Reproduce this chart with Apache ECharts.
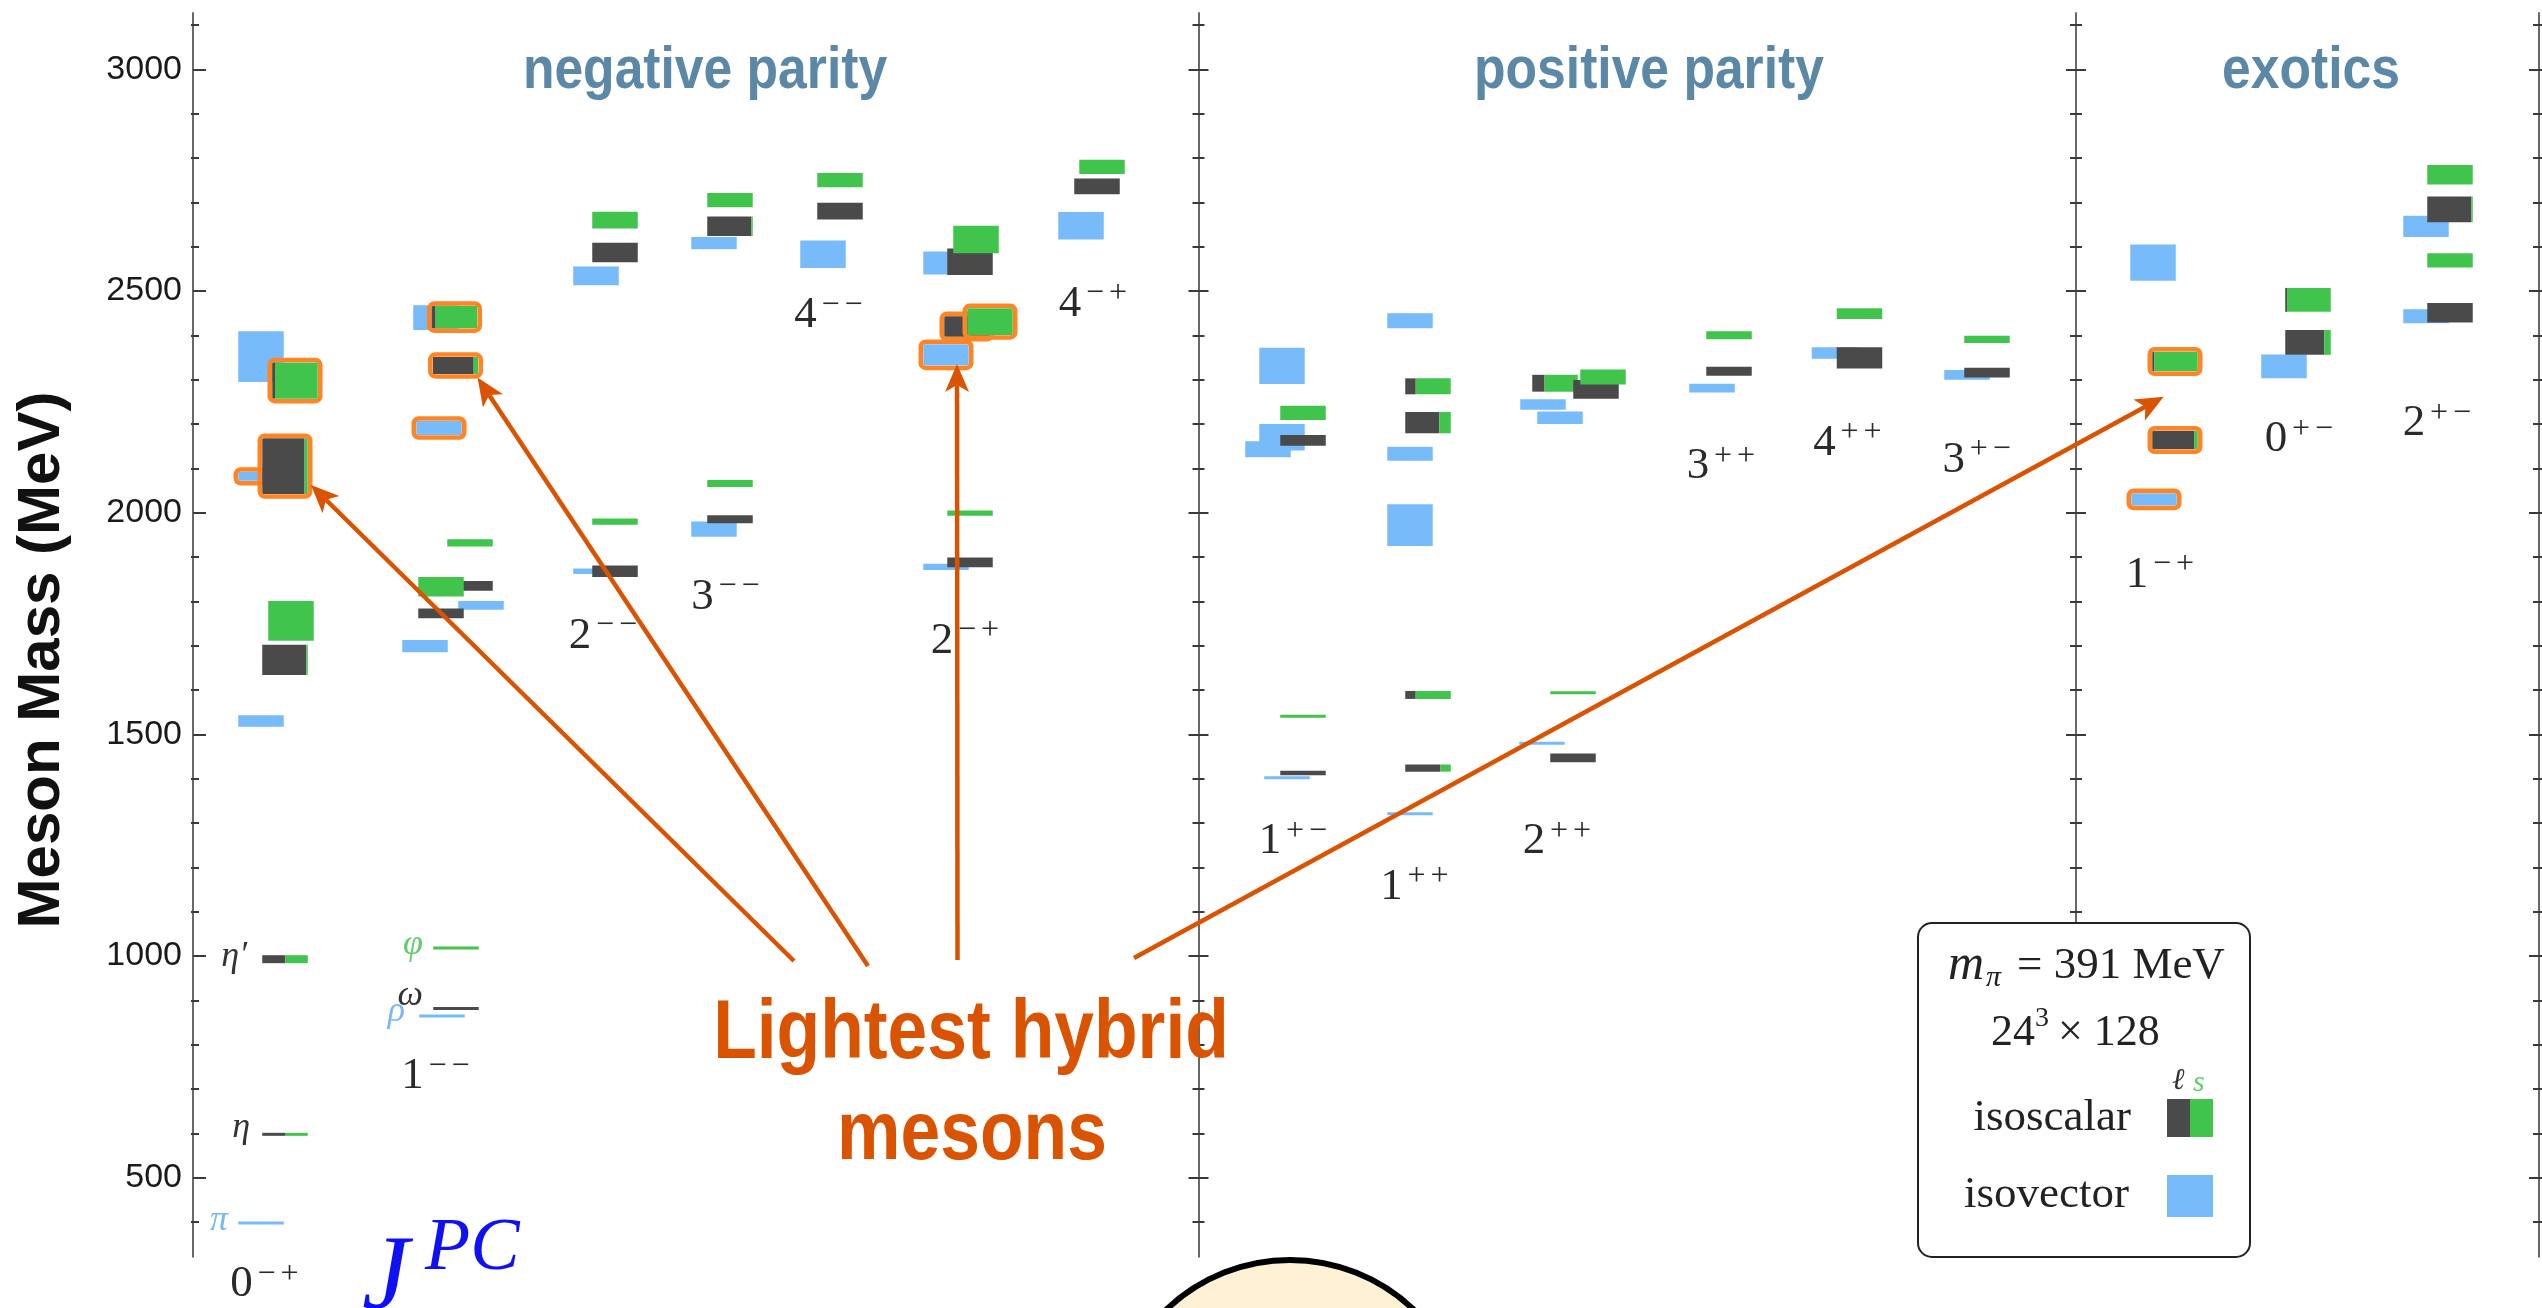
<!DOCTYPE html>
<html><head><meta charset="utf-8">
<script src="https://cdn.jsdelivr.net/npm/echarts@6/dist/echarts.min.js"></script>
<style>html,body{margin:0;padding:0;background:#fff}#c{width:2542px;height:1308px}</style>
</head><body><div id="c"></div>
<script>
// ================= DATA =================
// JPC columns: label text, label anchor (layout x unit, mass MeV)
const jpcLabels    = ['0-+','1--','2--','3--','4--','2-+','4-+','1+-','1++','2++','3++','4++','3+-','1-+','0+-','2+-'];
const jpcLabelX    = [0.485, 2.195, 3.87, 5.096, 6.125, 7.489, 8.77, 10.77, 11.985, 13.41, 15.05, 16.315, 17.607, 19.44, 20.83, 22.21];
const jpcLabelMass = [260, 729, 1722, 1810, 2445, 1711, 2471, 1259, 1156, 1259, 2104, 2157, 2119, 1860, 2166, 2202];

// Sections (x ranges in layout units) and their titles
const sectionTitles = ['negative parity', 'positive parity', 'exotics'];
const sectionEdges  = [0, 10.055, 18.83, 23.46];

// Mass axis
const massMin = 322, massMax = 3127;
const majorTicks = [500, 1000, 1500, 2000, 2500, 3000];
const minorTicks = [400,600,700,800,900,1100,1200,1300,1400,1600,1700,1800,1900,2100,2200,2300,2400,2600,2700,2800,2900,3100];

// Isovector states: [x, mass, half-error, highlighted]
const isovector = [
  [0.68, 2352, 57, 0], [0.68, 2082, 10, 1], [0.68, 1530, 13, 0], [0.68, 398, 3, 0],
  [2.43, 2440, 28, 0], [2.46, 2191, 16, 1], [2.88, 1791, 10, 0], [2.32, 1699, 14, 0], [2.49, 865, 3, 0],
  [4.03, 2534, 21, 0], [4.03, 1868, 6, 0],
  [5.21, 2608, 14, 0], [5.21, 1963, 17, 0],
  [6.30, 2583, 31, 0],
  [7.53, 2563, 26, 0], [7.53, 2356, 24, 1], [7.53, 1878, 7, 0],
  [8.88, 2647, 31, 0],
  [10.89, 2331, 41, 0], [10.89, 2170, 30, 0], [10.75, 2143, 18, 0], [10.94, 1402, 3, 0],
  [12.17, 2433, 17, 0], [12.17, 2133, 16, 0], [12.17, 1972, 47, 0], [12.17, 1321, 3, 0],
  [13.50, 2244, 12, 0], [13.67, 2214, 14, 0], [13.49, 1480, 3, 0],
  [15.19, 2281, 10, 0],
  [16.415, 2360, 13, 0],
  [17.74, 2311, 11, 0],
  [19.60, 2564, 41, 0], [19.61, 2030, 14, 1],
  [20.91, 2330, 27, 0],
  [22.33, 2646, 24, 0], [22.33, 2443, 16, 0]
];

// Isoscalar states: [x, mass, half-error, light-quark fraction, highlighted]
const isoscalar = [
  [1.02, 2298, 41, 0.06, 1], [0.92, 2105, 63, 0.93, 1], [0.98, 1756, 45, 0, 0], [0.92, 1668, 34, 0.97, 0], [0.92, 993, 9, 0.51, 0], [0.92, 598, 2, 0.5, 0],
  [2.615, 2441, 25, 0.08, 1], [2.625, 2332, 19, 0.9, 1], [2.77, 1932, 8, 0, 0], [2.77, 1835, 11, 1, 0], [2.48, 1833, 22, 0, 0], [2.48, 1773, 11, 1, 0], [2.63, 882, 3, 1, 0], [2.63, 1018, 2, 0, 0],
  [4.22, 2587, 22, 1, 0], [4.22, 2660, 19, 0, 0], [4.22, 1980, 7, 0, 0], [4.22, 1868, 13, 1, 0],
  [5.37, 2646, 22, 0.97, 0], [5.37, 2705, 16, 0, 0], [5.37, 2066, 8, 0, 0], [5.37, 1985, 9, 1, 0],
  [6.47, 2680, 19, 1, 0], [6.47, 2750, 16, 0, 0],
  [7.77, 2566, 30, 1, 0], [7.83, 2616, 31, 0, 0], [7.74, 2420, 23, 1, 1], [7.97, 2431, 30, 0, 1], [7.77, 1999, 6, 0, 0], [7.77, 1888, 11, 1, 0],
  [9.04, 2736, 18, 1, 0], [9.09, 2780, 16, 0, 0],
  [11.10, 2225, 16, 0, 0], [11.10, 2163, 12, 1, 0], [11.10, 1541, 3, 0, 0], [11.10, 1413, 5, 1, 0],
  [12.35, 2285, 18, 0.23, 0], [12.35, 2203, 24, 0.75, 0], [12.35, 1589, 9, 0.23, 0], [12.35, 1424, 8, 0.77, 0],
  [13.62, 2292, 19, 0.27, 0], [14.03, 2278, 21, 1, 0], [14.10, 2306, 17, 0, 0], [13.80, 1594, 3, 0, 0], [13.80, 1447, 10, 1, 0],
  [15.36, 2400, 9, 0, 0], [15.36, 2319, 10, 1, 0],
  [16.665, 2449, 12, 0, 0], [16.665, 2349, 24, 1, 0],
  [17.94, 2391, 8, 0, 0], [17.94, 2316, 11, 1, 0],
  [19.82, 2341, 22, 0.05, 1], [19.82, 2164, 21, 0.92, 1],
  [21.15, 2480, 27, 0.04, 0], [21.15, 2384, 28, 0.86, 0],
  [22.57, 2762, 22, 0, 0], [22.57, 2684, 29, 0.97, 0], [22.57, 2569, 16, 0, 0], [22.57, 2451, 22, 1, 0]
];

// Names of the known ground states (right edge x, mass)
const stateNames    = ['η′', 'η', 'π', 'φ', 'ω', 'ρ'];
const stateNameX    = [0.54, 0.57, 0.35, 2.30, 2.30, 2.12];
const stateNameMass = [1000, 613, 404, 1027, 912, 874];
const stateNameKind = ['s', 's', 'v', 'g', 's', 'v'];

// ================= STYLE =================
const BLUE = '#78bbfa', DARK = '#4a4a4a', GREEN = '#41c44c', HL = '#ff8424';
const ARROW = '#d95300', TITLE = '#5b88a6';
const HALF_W = 0.2275, MIN_H = 3;
const SERIF = '"Liberation Serif", "DejaVu Serif", serif';
const SANS = '"Liberation Sans", Arial, sans-serif';

const GRID_LEFT = 193, GRID_TOP = 13, GRID_H = 1243.7, PX_PER_UNIT = 100;
function gridOf(x) { return x < sectionEdges[1] ? 0 : (x < sectionEdges[2] ? 1 : 2); }

const grids = [], xAxes = [];
for (let g = 0; g < 3; g++) {
  grids.push({
    left: GRID_LEFT + sectionEdges[g] * PX_PER_UNIT,
    width: (sectionEdges[g + 1] - sectionEdges[g]) * PX_PER_UNIT,
    top: GRID_TOP, height: GRID_H, containLabel: false, outerBoundsMode: 'none'
  });
  xAxes.push({ type: 'value', gridIndex: g, min: sectionEdges[g], max: sectionEdges[g + 1], show: false });
}

const yAxes = [];
const mainAxis = [];
function axisSet(g, pos, majIn, majOut, minIn, minOut, labels) {
  mainAxis.push(yAxes.length);
  yAxes.push({
    type: 'value', gridIndex: g, position: pos, min: massMin, max: massMax,
    axisLine: { show: true, onZero: false, lineStyle: { color: '#686868', width: 2 } },
    axisTick: { show: false }, splitLine: { show: false },
    axisLabel: labels ? { show: true, customValues: majorTicks, fontSize: 34, fontFamily: SANS, color: '#1a1a1a', margin: 11,
                          formatter: v => String(v) } : { show: false }
  });
  yAxes.push({
    type: 'value', gridIndex: g, position: pos, offset: majOut, min: massMin, max: massMax,
    axisLine: { show: false }, splitLine: { show: false }, axisLabel: { show: false },
    axisTick: { show: true, inside: true, length: majIn + majOut, customValues: majorTicks, lineStyle: { color: '#3a3a3a', width: 2 } }
  });
  yAxes.push({
    type: 'value', gridIndex: g, position: pos, offset: minOut, min: massMin, max: massMax,
    axisLine: { show: false }, splitLine: { show: false }, axisLabel: { show: false },
    axisTick: { show: true, inside: true, length: minIn + minOut, customValues: minorTicks, lineStyle: { color: '#3a3a3a', width: 2 } }
  });
}
axisSet(0, 'left', 10, 3, 6, 2, true);
axisSet(1, 'left', 10, 10, 6, 6, false);
axisSet(2, 'left', 10, 10, 6, 6, false);
axisSet(2, 'right', 10, 10, 6, 6, false);

// ---- renderers ----
function rect(x, y, w, h, fill) {
  return { type: 'rect', shape: { x: x, y: y, width: w, height: h }, style: { fill: fill, blend: 'multiply' } };
}
function boxItem(params, api) {
  const x = api.value(0), m = api.value(1), e = api.value(2), f = api.value(3), hl = api.value(4), kind = api.value(5);
  const p0 = api.coord([x - HALF_W, m + e]);
  const p1 = api.coord([x + HALF_W, m - e]);
  let top = p0[1], h = p1[1] - p0[1];
  if (h < MIN_H) { const c = (p0[1] + p1[1]) / 2; top = c - MIN_H / 2; h = MIN_H; }
  const left = p0[0], w = p1[0] - p0[0];
  const ch = [];
  if (kind === 0) ch.push(rect(left, top, w, h, BLUE));
  else {
    const wd = w * f;
    if (wd > 0.3) ch.push(rect(left, top, wd, h, DARK));
    if (w - wd > 0.3) ch.push(rect(left + wd, top, w - wd, h, GREEN));
  }
  if (hl) ch.push({ type: 'rect', shape: { x: left - 2.5, y: top - 2.5, width: w + 5, height: h + 5, r: 5 },
                    style: { fill: 'none', stroke: HL, lineWidth: 4.5, blend: 'multiply' } });
  return { type: 'group', children: ch };
}
function jpcItem(params, api) {
  const i = api.value(2);
  const p = api.coord([api.value(0), api.value(1)]);
  const lab = jpcLabels[i];
  const signs = lab.slice(1).replace(/-/g, '\u2212');
  return { type: 'group', children: [
    { type: 'text', x: p[0], y: p[1], style: { text: lab[0], fontSize: 45, fontFamily: SERIF, fill: '#2a2a2a', align: 'center', verticalAlign: 'middle' } },
    { type: 'text', x: p[0] + 25, y: p[1] - 10, style: { text: signs[0], fontSize: 32, fontFamily: SERIF, fill: '#2a2a2a', align: 'center', verticalAlign: 'middle' } },
    { type: 'text', x: p[0] + 48, y: p[1] - 10, style: { text: signs[1], fontSize: 32, fontFamily: SERIF, fill: '#2a2a2a', align: 'center', verticalAlign: 'middle' } }
  ] };
}
const nameColor = { s: '#333333', v: '#7ab8f5', g: '#5ccf66' };
function nameItem(params, api) {
  const i = api.value(2);
  const p = api.coord([api.value(0), api.value(1)]);
  return { type: 'text', x: p[0], y: p[1], style: { text: stateNames[i], fontSize: 36, fontStyle: 'italic', fontFamily: SERIF,
           fill: nameColor[stateNameKind[i]], align: 'right', verticalAlign: 'middle' } };
}

const boxRows = isovector.map(r => [r[0], r[1], r[2], 0, r[3], 0])
  .concat(isoscalar.map(r => [r[0], r[1], r[2], r[3], r[4], 1]));
const jpcRows = jpcLabels.map((l, i) => [jpcLabelX[i], jpcLabelMass[i], i]);
const nameRows = stateNames.map((n, i) => [stateNameX[i], stateNameMass[i], i]);

const series = [];
for (let g = 0; g < 3; g++) {
  const common = { type: 'custom', xAxisIndex: g, yAxisIndex: mainAxis[g], clip: false, silent: true, encode: { x: 0, y: 1 } };
  series.push(Object.assign({ renderItem: boxItem, data: boxRows.filter(r => gridOf(r[0]) === g), z: 5 }, common));
  series.push(Object.assign({ renderItem: jpcItem, data: jpcRows.filter(r => gridOf(r[0]) === g), z: 6 }, common));
  const nr = nameRows.filter(r => gridOf(r[0]) === g);
  if (nr.length) series.push(Object.assign({ renderItem: nameItem, data: nr, z: 6 }, common));
}

// ---- annotations (graphic) ----
const graphic = [];
function txt(t, x, y, size, opts) {
  const o = Object.assign({ type: 'text', x: x, y: y, z: 50,
    style: { text: t, fontSize: size, fontFamily: SERIF, fill: '#222', align: 'left', verticalAlign: 'middle' } }, opts || {});
  if (opts && opts.style) o.style = Object.assign({ text: t, fontSize: size, fontFamily: SERIF, fill: '#222', align: 'left', verticalAlign: 'middle' }, opts.style);
  return o;
}
// axis title
graphic.push({ type: 'text', x: 42, y: 660, rotation: Math.PI / 2, z: 50,
  style: { text: 'Meson Mass (MeV)', fontSize: 60, fontWeight: 'bold', fontFamily: SANS, fill: '#111', align: 'center', verticalAlign: 'middle' } });
// section titles
const titleX = [705, 1649, 2311];
sectionTitles.forEach((t, i) => graphic.push({ type: 'text', x: titleX[i], y: 71, scaleX: 0.86, z: 50,
  style: { text: t, fontSize: 60, fontWeight: 'bold', fontFamily: SANS, fill: TITLE, align: 'center', verticalAlign: 'middle' } }));
// J^PC
graphic.push({ type: 'text', x: 362, y: 1280, z: 50, style: { text: 'J', fontSize: 106, fontStyle: 'italic', fontFamily: SERIF, fill: '#1010f5', align: 'left', verticalAlign: 'middle' } });
graphic.push({ type: 'text', x: 425, y: 1250, z: 50, style: { text: 'PC', fontSize: 74, fontStyle: 'italic', fontFamily: SERIF, fill: '#1010f5', align: 'left', verticalAlign: 'middle' } });

// arrows
const arrows = [[794, 961, 311, 485], [868, 966, 477.5, 377.5], [957.5, 960, 957, 364], [1134, 958, 2163.7, 396.7]];
arrows.forEach(a => {
  const dx = a[2] - a[0], dy = a[3] - a[1], L = Math.hypot(dx, dy);
  const ux = dx / L, uy = dy / L, nx = -uy, ny = ux;
  const hl = 28, hw = 12, notch = 7;
  const bx = a[2] - ux * hl, by = a[3] - uy * hl;
  graphic.push({ type: 'line', z: 40, shape: { x1: a[0], y1: a[1], x2: a[2] - ux * (hl - notch), y2: a[3] - uy * (hl - notch) },
    style: { stroke: ARROW, lineWidth: 4.5 } });
  graphic.push({ type: 'polygon', z: 40, shape: { points: [[a[2], a[3]], [bx + nx * hw, by + ny * hw],
    [a[2] - ux * (hl - notch), a[3] - uy * (hl - notch)], [bx - nx * hw, by - ny * hw]] }, style: { fill: ARROW } });
});
// "Lightest hybrid mesons"
graphic.push({ type: 'text', x: 971, y: 1035, scaleX: 0.85, z: 50,
  style: { text: 'Lightest hybrid', fontSize: 84, fontWeight: 'bold', fontFamily: SANS, fill: ARROW, align: 'center', verticalAlign: 'middle' } });
graphic.push({ type: 'text', x: 972, y: 1136, scaleX: 0.85, z: 50,
  style: { text: 'mesons', fontSize: 84, fontWeight: 'bold', fontFamily: SANS, fill: ARROW, align: 'center', verticalAlign: 'middle' } });
// circle at the bottom
graphic.push({ type: 'circle', z: 45, shape: { cx: 1290, cy: 1439, r: 179 }, style: { fill: '#fff1d6', stroke: '#000', lineWidth: 6 } });

// legend box
graphic.push({ type: 'rect', z: 60, shape: { x: 1918, y: 923, width: 332, height: 334, r: 14 }, style: { fill: '#fff', stroke: '#222', lineWidth: 2 } });
graphic.push(txt('m', 1948, 966, 50, { z: 61, style: { fontStyle: 'italic' } }));
graphic.push(txt('π', 1986, 978, 30, { z: 61, style: { fontStyle: 'italic' } }));
graphic.push(txt('= 391 MeV', 2017, 966, 45, { z: 61 }));
graphic.push(txt('24', 1991, 1033, 44, { z: 61 }));
graphic.push(txt('3', 2035, 1019, 28, { z: 61 }));
graphic.push(txt('× 128', 2058, 1033, 44, { z: 61 }));
graphic.push(txt('ℓ', 2172, 1081, 30, { z: 61, style: { fontStyle: 'italic', fill: '#333' } }));
graphic.push(txt('s', 2193, 1083, 30, { z: 61, style: { fontStyle: 'italic', fill: '#5ccf66' } }));
graphic.push(txt('isoscalar', 2131, 1118, 45, { z: 61, style: { align: 'right' } }));
graphic.push(txt('isovector', 2129, 1195, 45, { z: 61, style: { align: 'right' } }));
graphic.push({ type: 'rect', z: 61, shape: { x: 2167, y: 1099, width: 23, height: 38 }, style: { fill: DARK } });
graphic.push({ type: 'rect', z: 61, shape: { x: 2190, y: 1099, width: 23, height: 38 }, style: { fill: GREEN } });
graphic.push({ type: 'rect', z: 61, shape: { x: 2167, y: 1175, width: 46, height: 42 }, style: { fill: BLUE } });

const chart = echarts.init(document.getElementById('c'), null, { renderer: 'canvas', width: 2542, height: 1308 });
chart.setOption({
  animation: false,
  backgroundColor: '#ffffff',
  grid: grids,
  xAxis: xAxes,
  yAxis: yAxes,
  series: series,
  graphic: graphic
});
</script>
</body></html>
